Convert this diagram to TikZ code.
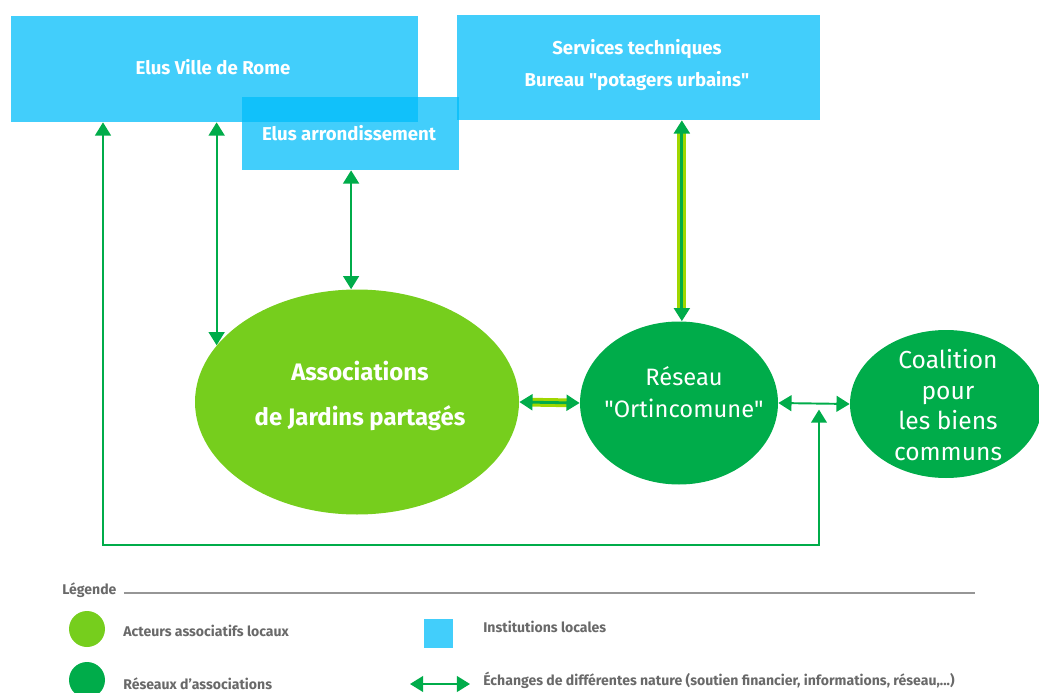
\documentclass[tikz,border=0pt]{standalone}
\usepackage{fontspec}
\setmainfont{Fira Sans}
\usetikzlibrary{arrows.meta,shapes.geometric,calc}
\definecolor{instblue}{RGB}{0,189,250}
\definecolor{assogreen}{RGB}{118,206,29}
\definecolor{netgreen}{RGB}{0,172,74}
\definecolor{bandgreen}{RGB}{160,215,0}
\definecolor{legendgray}{RGB}{105,105,105}
\tikzset{
    inst/.style={fill=instblue,fill opacity=0.74,inner sep=0pt},
    insttext/.style={text=white,font=\bfseries\fontsize{10.6}{17}\selectfont,align=center},
    blob/.style={ellipse,inner sep=0pt},
    blobtext/.style={text=white,align=center},
    exch/.style={draw=netgreen,line width=1.1pt,
        {Triangle[length=7.5pt,width=9pt]}-{Triangle[length=7.5pt,width=9pt]}},
    band/.style={draw=bandgreen,line width=5pt,shorten <=7pt,shorten >=7pt},
    legtext/.style={text=legendgray,font=\bfseries\fontsize{8}{9}\selectfont,anchor=west,inner sep=0pt}
}
\begin{document}
\begin{tikzpicture}[x=0.02cm,y=-0.02cm]
    \useasboundingbox (0,0) rectangle (1039,693);
    %% local institutions
    \node[inst,minimum width=407*0.02cm,minimum height=106*0.02cm] (vdr) at (214.5,69) {};
    \node[inst,minimum width=217*0.02cm,minimum height=73*0.02cm] (arr) at (350.5,133.5) {};
    \node[inst,minimum width=363*0.02cm,minimum height=105*0.02cm] (serv) at (638.5,67.5) {};
    \node[insttext] (vdrtxt) at (213,67) {Elus Ville de Rome};
    \node[insttext] (arrtxt) at (349,133) {Elus arrondissement};
    \node[insttext] (servtxt) at (637,65) {Services techniques\\[1pt]Bureau \textquotedbl potagers urbains\textquotedbl};
    %% associations and networks
    \node[blob,fill=assogreen,minimum width=324*0.02cm,minimum height=225*0.02cm] (asso) at (357,402) {};
    \node[blob,fill=netgreen,minimum width=198*0.02cm,minimum height=163*0.02cm] (res) at (679,403) {};
    \node[blob,fill=netgreen,minimum width=192*0.02cm,minimum height=148*0.02cm] (coal) at (946,404) {};
    \node[blobtext,font=\bfseries\fontsize{13.6}{26}\selectfont] (assotxt) at (360,396)
        {Associations\\de Jardins partagés};
    \node[blobtext,font=\fontsize{13.5}{18}\selectfont] (restxt) at (684,392)
        {Réseau\\\textquotedbl Ortincomune\textquotedbl};
    \node[blobtext,font=\fontsize{14}{17.5}\selectfont] (coaltxt) at (948,405)
        {Coalition\\pour\\les biens\\communs};
    %% exchanges
    \coordinate (mid) at ($(res.east)!0.57!(coal.west)$);
    \coordinate (loopL) at (103,545);
    \draw[exch] (vdr.south -| asso.158) -- (asso.158);
    \draw[exch] (arr.south -| asso.93) -- (asso.93);
    \draw[band] (serv.south -| res.88) -- (res.88);
    \draw[exch,line width=1.6pt] (serv.south -| res.88) -- (res.88);
    \draw[band] (asso.east) -- (res.west);
    \draw[exch,line width=1.6pt] (asso.east) -- (res.west);
    \draw[exch] (res.east) -- (coal.west);
    \draw[exch,line width=1pt] ($(mid)+(0,6)$) |- (loopL) -- (vdr.south -| loopL);
    %% legend
    \node[legtext] (leg) at (62,590) {Légende};
    \draw[legendgray!70,line width=0.6pt] ([xshift=4pt]leg.east |- 0,593) -- (975,593);
    \node[circle,fill=assogreen,minimum size=36*0.02cm,inner sep=0pt] (legasso) at (87,629) {};
    \node[legtext] (legassotxt) at (123,631) {Acteurs associatifs locaux};
    \node[circle,fill=netgreen,minimum size=36*0.02cm,inner sep=0pt] (legres) at (87,680) {};
    \node[legtext] (legrestxt) at (123,684) {Réseaux d'associations};
    \node[inst,minimum size=29*0.02cm] (leginst) at (438.5,633.5) {};
    \node[legtext] (leginsttxt) at (483,627) {Institutions locales};
    \coordinate (legA) at (410,684);
    \coordinate (legB) at (470,684);
    \draw[exch] (legA) -- (legB);
    \node[legtext] (legexchtxt) at (483,680) {Échanges de différentes nature (soutien financier, informations, réseau,...)};
\end{tikzpicture}
\end{document}
